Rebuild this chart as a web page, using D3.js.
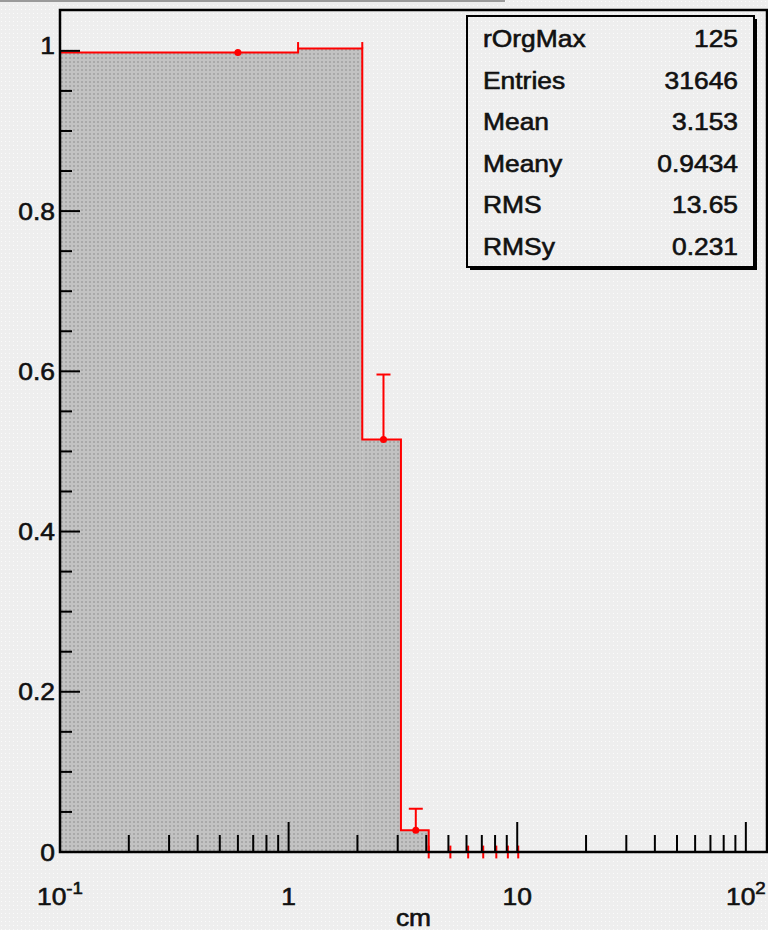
<!DOCTYPE html>
<html><head><meta charset="utf-8">
<script src="https://cdn.jsdelivr.net/npm/d3@7"></script>
<style>body{margin:0;background:#efefef}svg{display:block}</style>
</head><body>
<svg id="c" width="768" height="930"></svg>
<script>
// ---- data ----
const binEdges  = [0.1, 1.1, 2.1, 3.1, 4.1, 5.1, 6.1, 7.1, 8.1, 9.1, 10.1];
const binValues = [0.998, 1.003, 0.515, 0.027, 0, 0, 0, 0, 0, 0];
const binErrors = [0.002, 0.002, 0.081, 0.027, 0, 0, 0, 0, 0, 0];
const xMajorTicks = [0.1, 1, 10, 100];
const xTickBase = ["10", "1", "10", "10"];
const xTickSup  = ["-1", "", "", "2"];
const yTicks = [0, 0.2, 0.4, 0.6, 0.8, 1];
const yTickLabels = ["0", "0.2", "0.4", "0.6", "0.8", "1"];
const xTitle = "cm";
const statNames  = ["rOrgMax", "Entries", "Mean", "Meany", "RMS", "RMSy"];
const statValues = ["125", "31646", "3.153", "0.9434", "13.65", "0.231"];

(function () {
const svg = d3.select("#c");
const W = 768, H = 930;
const x = d3.scaleLog().domain([0.1, 125]).range([60, 768]);
const y = d3.scaleLinear().domain([0, 1.051]).range([852, 10]);
const fL = 60, fR = 767, fT = 10, fB = 852;
const FONT = "'Liberation Sans', Arial, Helvetica, sans-serif";
const SX = 1.1;

const defs = svg.append("defs");
const bgp = defs.append("pattern").attr("id", "bg").attr("width", 4).attr("height", 4).attr("patternUnits", "userSpaceOnUse");
bgp.append("rect").attr("width", 4).attr("height", 4).attr("fill", "#eeeeee");
bgp.append("rect").attr("x", 1).attr("y", 1).attr("width", 1).attr("height", 1).attr("fill", "#fbfbfb");
const fp = defs.append("pattern").attr("id", "fillp").attr("width", 4).attr("height", 4).attr("patternUnits", "userSpaceOnUse");
fp.append("rect").attr("width", 4).attr("height", 4).attr("fill", "#c2c2c2");
fp.append("rect").attr("x", 1).attr("y", 1).attr("width", 2).attr("height", 2).attr("fill", "#a9a9a9");

svg.append("rect").attr("width", W).attr("height", H).attr("fill", "url(#bg)");
svg.append("rect").attr("x", 0).attr("y", 0).attr("width", 505).attr("height", 2).attr("fill", "#9a9a9a");

const bins = binValues.map((v, i) => ({x0: binEdges[i], x1: binEdges[i + 1], v, e: binErrors[i], c: (binEdges[i] + binEdges[i + 1]) / 2}));

// error bars (beneath the fill so the lower half is hidden)
const eb = svg.append("g").attr("stroke", "#ff0000").attr("stroke-width", 2).attr("fill", "none");
bins.filter(b => b.v > 0 && b.e > 0.01).forEach(b => {
  const cx = x(b.c);
  eb.append("line").attr("x1", cx).attr("x2", cx).attr("y1", y(b.v - b.e)).attr("y2", y(b.v + b.e));
  eb.append("line").attr("x1", cx - 7).attr("x2", cx + 7).attr("y1", y(b.v + b.e)).attr("y2", y(b.v + b.e));
});

// grey fill
svg.append("g").selectAll("rect").data(bins.filter(b => b.v > 0)).join("rect")
  .attr("x", b => x(b.x0)).attr("width", b => x(b.x1) - x(b.x0))
  .attr("y", b => y(b.v)).attr("height", b => y(0) - y(b.v))
  .attr("fill", "url(#fillp)");

// red outline
const p = d3.path();
p.moveTo(x(bins[0].x0), y(bins[0].v));
bins.forEach(b => { p.lineTo(x(b.x0), y(b.v)); p.lineTo(x(b.x1), y(b.v)); });
svg.append("path").attr("d", p.toString()).attr("fill", "none").attr("stroke", "#ff0000").attr("stroke-width", 2);

// small spurs at the edges of the second bin
const spur = 0.008;
svg.append("g").selectAll("line").data([bins[1].x0, bins[1].x1]).join("line")
  .attr("x1", d => x(d)).attr("x2", d => x(d))
  .attr("y1", y(bins[1].v)).attr("y2", y(bins[1].v + spur))
  .attr("stroke", "#ff0000").attr("stroke-width", 2);

const zeroMark = 0.008;
const emptyEdges = bins.filter(b => b.v === 0).map(b => b.x0).concat([binEdges[binEdges.length - 1]]);
svg.append("g").selectAll("line").data(emptyEdges).join("line")
  .attr("x1", d => x(d)).attr("x2", d => x(d))
  .attr("y1", y(-zeroMark)).attr("y2", y(zeroMark))
  .attr("stroke", "#ff0000").attr("stroke-width", 2);

// markers
svg.append("g").selectAll("circle").data(bins.filter((b, i) => b.v > 0 && i !== 1)).join("circle")
  .attr("cx", b => x(b.c)).attr("cy", b => y(b.v)).attr("r", 3.5).attr("fill", "#ff0000");

// ticks
const tg = svg.append("g").attr("stroke", "#000").attr("stroke-width", 2);
const xMinor = [];
[0.1, 1, 10].forEach(d => { for (let k = 2; k <= 9; k++) xMinor.push(d * k); });
xMinor.forEach(v => tg.append("line").attr("x1", x(v)).attr("x2", x(v)).attr("y1", fB).attr("y2", fB - 17));
xMajorTicks.forEach(v => tg.append("line").attr("x1", x(v)).attr("x2", x(v)).attr("y1", fB).attr("y2", fB - 30));
const yMinor = d3.range(0, 21).map(i => i * 0.05).filter(v => Math.abs(v * 5 - Math.round(v * 5)) > 1e-6);
yMinor.forEach(v => tg.append("line").attr("x1", fL).attr("x2", fL + 12).attr("y1", y(v)).attr("y2", y(v)));
yTicks.forEach(v => tg.append("line").attr("x1", fL).attr("x2", fL + 20).attr("y1", y(v)).attr("y2", y(v)));

// frame
svg.append("rect").attr("x", fL).attr("y", fT).attr("width", fR - fL).attr("height", fB - fT)
  .attr("fill", "none").attr("stroke", "#000").attr("stroke-width", 2.5);

function txt(g, px, py, anchor) {
  return g.append("text").attr("transform", `translate(${px},${py}) scale(${SX},1)`)
    .attr("text-anchor", anchor).attr("font-family", FONT).attr("font-size", 24)
    .attr("fill", "#111").attr("stroke", "#111").attr("stroke-width", 0.6);
}
const lg = svg.append("g");
yTicks.forEach((v, i) => {
  txt(lg, 55, y(v) + 8.5 - (v === 1 ? 5 : 0), "end").text(yTickLabels[i]);
});
xMajorTicks.forEach((v, i) => {
  const t = txt(lg, x(v), 905, "middle");
  t.append("tspan").text(xTickBase[i]);
  if (xTickSup[i]) t.append("tspan").attr("font-size", 17).attr("dy", -11).text(xTickSup[i]);
});
txt(lg, (fL + fR) / 2, 926, "middle").text(xTitle);

// stats box
const bx = 467, by = 16, bw = 287, bh = 251;
svg.append("rect").attr("x", bx + 3).attr("y", by + 3).attr("width", bw).attr("height", bh).attr("fill", "#000");
svg.append("rect").attr("x", bx).attr("y", by).attr("width", bw).attr("height", bh)
  .attr("fill", "url(#bg)").attr("stroke", "#000").attr("stroke-width", 2);
const row = d3.scaleLinear().domain([0, 5]).range([47, 255]);
const sg = svg.append("g");
statNames.forEach((n, i) => {
  txt(sg, 483, row(i), "start").text(n);
  txt(sg, 738, row(i), "end").text(statValues[i]);
});
})();
</script>
</body></html>
